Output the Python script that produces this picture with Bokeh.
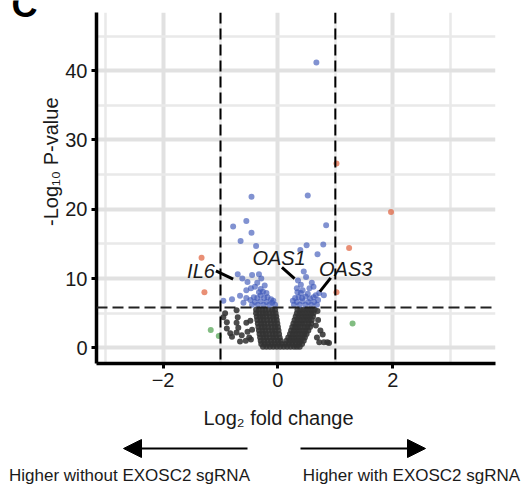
from bokeh.plotting import figure
from bokeh.models import Range1d, FixedTicker, Span, Arrow, NormalHead, Title
from bokeh.layouts import column, row
from bokeh.core.properties import value
from bokeh.embed import file_html
from bokeh.resources import INLINE

FONT = "Liberation Sans"

# ---------------- data ----------------
x_ticks = [-2, 0, 2]
x_minor = [-3, -1, 1, 3]
y_ticks = [0, 10, 20, 30, 40]
y_minor = [5, 15, 25, 35, 45]

fc_cutoff = 1.0
p_cutoff = 5.8

# grey (not significant) - dense V cloud, row by row
grey_row_y = [0.15, 0.55, 1.0, 1.5, 2.0, 2.5, 3.0, 3.5, 4.0, 4.5, 5.0, 5.5]
grey_row_x = [
    [-0.26, -0.20, -0.14, -0.08, -0.02, 0.04, 0.10, 0.16, 0.22, 0.28, 0.33, 0.38],
    [-0.29, -0.23, -0.17, -0.11, -0.05, 0.01, 0.07, 0.13, 0.19, 0.25, 0.31, 0.37, 0.42],
    [-0.30, -0.24, -0.18, -0.12, -0.06, 0.00, 0.05, 0.15, 0.20, 0.25, 0.30, 0.35, 0.40, 0.45],
    [-0.31, -0.25, -0.20, -0.14, -0.08, -0.03, 0.03, 0.18, 0.23, 0.28, 0.33, 0.38, 0.43, 0.47],
    [-0.32, -0.26, -0.21, -0.15, -0.09, -0.04, 0.02, 0.21, 0.26, 0.31, 0.36, 0.41, 0.46, 0.50],
    [-0.33, -0.27, -0.22, -0.16, -0.10, -0.05, 0.01, 0.23, 0.28, 0.33, 0.38, 0.43, 0.48, 0.53],
    [-0.34, -0.28, -0.23, -0.17, -0.11, -0.05, 0.00, 0.25, 0.30, 0.35, 0.40, 0.46, 0.51, 0.56],
    [-0.35, -0.29, -0.24, -0.18, -0.12, -0.06, -0.01, 0.27, 0.32, 0.37, 0.42, 0.47, 0.53, 0.58],
    [-0.36, -0.30, -0.25, -0.19, -0.13, -0.07, -0.02, 0.29, 0.34, 0.39, 0.44, 0.49, 0.54, 0.59],
    [-0.37, -0.31, -0.26, -0.20, -0.14, -0.08, -0.03, 0.31, 0.36, 0.41, 0.46, 0.51, 0.56, 0.61],
    [-0.38, -0.32, -0.26, -0.21, -0.15, -0.09, -0.04, 0.33, 0.38, 0.43, 0.48, 0.53, 0.58, 0.62],
    [-0.38, -0.33, -0.27, -0.22, -0.16, -0.10, -0.05, 0.34, 0.39, 0.44, 0.49, 0.54, 0.59, 0.64],
]
grey_out_x = [-0.92, -0.89, -0.95, -0.89, -0.83, -0.72, -0.80, -0.66,
              -0.72, -0.70, -0.72, -0.69, -0.63, -0.55, -0.53, -0.50, -0.56, -0.47, -0.45, -0.48,
              0.74, 0.78, 0.80, 0.86, 0.72, 0.68, 0.89, 0.70, 0.66, 0.69]
grey_out_y = [5.0, 3.7, 4.4, 2.8, 2.1, 2.2, 1.6, 0.9,
              5.4, 4.4, 3.6, 2.9, 1.8, 3.6, 2.3, 1.5, 1.0, 1.2, 2.6, 3.9,
              2.5, 1.9, 0.8, 0.8, 0.8, 1.5, 0.7, 4.0, 3.2, 5.3]

# blue (p-value significant only)
blue_x = [-0.46, -0.78, -0.55, -0.46, -0.65, -0.38,
          -0.70, -0.62, -0.53, -0.45, -0.33, -0.29, -0.40, -0.23, -0.55, -0.36, -0.47, -0.30,
          -0.66, -0.80, -0.95, -0.60, -0.55,
          -0.45, -0.40, -0.35, -0.30, -0.25, -0.20, -0.15, -0.10, -0.05, -0.42, -0.36, -0.30,
          -0.24, -0.18, -0.12, -0.33, -0.26, -0.20, -0.08, -0.48,
          0.67, 0.52, 0.84, 0.79, 0.50, 0.39, 0.69,
          0.45, 0.35, 0.49, 0.59, 0.40, 0.62, 0.43, 0.33, 0.52, 0.66, 0.80, 0.72, 0.55,
          0.28, 0.33, 0.38, 0.43, 0.48, 0.53, 0.58, 0.63, 0.68, 0.30, 0.36, 0.42, 0.48, 0.56,
          0.62, 0.34, 0.40, 0.70, 0.26]
blue_y = [21.8, 17.5, 18.3, 16.6, 15.4, 14.7,
          10.6, 10.0, 9.5, 10.5, 10.6, 10.0, 8.8, 9.0, 8.3, 9.4, 8.6, 8.5,
          7.5, 7.0, 6.8, 6.5, 7.2,
          6.2, 6.6, 6.2, 6.7, 6.2, 6.6, 6.2, 6.5, 6.2, 7.3, 7.2, 7.6,
          7.2, 7.3, 7.0, 8.0, 8.1, 7.9, 6.8, 6.9,
          41.2, 22.0, 17.7, 14.9, 14.8, 14.1, 13.5,
          11.0, 9.7, 10.2, 9.4, 9.1, 8.8, 8.3, 8.6, 7.8, 7.6, 7.6, 7.9, 8.6,
          6.2, 6.6, 6.2, 6.7, 6.2, 6.6, 6.2, 6.6, 6.2, 7.2, 7.3, 7.2, 7.4, 7.1,
          7.3, 8.0, 7.9, 6.9, 6.8]

# red (p-value and fold change significant)
red_x = [-1.33, -1.28, 1.02, 1.97, 1.24, 1.02]
red_y = [13.0, 8.0, 26.6, 19.6, 14.4, 8.0]

# green (fold change only)
green_x = [-1.17, -1.03, 1.30]
green_y = [2.55, 1.7, 3.5]

# gene labels and connectors
gene_names = ["IL6", "OAS1", "OAS3"]
gene_label_x = [-1.34, 0.02, 1.18]
gene_label_y = [11.1, 12.9, 11.4]
conn_x0 = [-1.08, 0.07, 0.92]
conn_y0 = [11.1, 11.6, 10.1]
conn_x1 = [-0.78, 0.29, 0.73]
conn_y1 = [9.9, 10.0, 8.1]

x_title = "Log\u2082 fold change"
y_title = "-Log\u2081\u2080 P-value"
direction_labels = ["Higher without EXOSC2 sgRNA", "Higher with EXOSC2 sgRNA"]
panel_letter = "C"

# flatten grey rows
grey_x = [x for row_ in grey_row_x for x in row_] + grey_out_x
grey_y = [y for y, row_ in zip(grey_row_y, grey_row_x) for _ in row_] + grey_out_y


def bare(fig):
    fig.outline_line_color = None
    fig.xgrid.visible = False
    fig.ygrid.visible = False
    try:
        fig.frame_align = False
    except Exception:
        pass


# ---------------- panel letter ----------------
pl = figure(width=38, height=30, x_range=Range1d(0, 38), y_range=Range1d(30, 0),
            output_backend="svg", toolbar_location=None, min_border=0,
            x_axis_type=None, y_axis_type=None)
bare(pl)
try:
    pl.align = "start"
except Exception:
    pass
pl.text([11], [4], text=[panel_letter], text_font=value(FONT), text_font_size="36px",
        text_font_style="bold", text_align="left", text_baseline="middle",
        text_color="black")

# ---------------- main plot ----------------
p = figure(width=491, height=396,
           x_range=Range1d(-3.16, 3.79), y_range=Range1d(-2.27, 48.4),
           output_backend="svg", toolbar_location=None,
           min_border_left=54, min_border_right=34, min_border_top=12, min_border_bottom=33)
p.outline_line_color = None
p.background_fill_color = "white"
p.border_fill_color = "white"
try:
    p.frame_align = False
except Exception:
    pass

for ax, ticks, minor in ((p.xaxis, x_ticks, x_minor), (p.yaxis, y_ticks, y_minor)):
    ax.ticker = FixedTicker(ticks=ticks, minor_ticks=minor)
    ax.axis_line_width = 3.5
    ax.axis_line_color = "black"
    ax.major_tick_line_width = 3
    ax.major_tick_line_color = "black"
    ax.major_tick_out = 5
    ax.major_tick_in = 0
    ax.minor_tick_line_color = None
    ax.major_label_text_font = FONT
    ax.major_label_text_font_size = "20px"
    ax.major_label_text_color = "#1a1a1a"
    ax.major_label_standoff = 4

# y axis title as a side title (sits higher, like the reference)
p.add_layout(Title(text=y_title, align="right", offset=85,
                   vertical_align="middle", standoff=0,
                   text_font=FONT, text_font_size="20px", text_font_style="normal",
                   text_color="#1a1a1a"), "left")

for g in (p.xgrid, p.ygrid):
    g.grid_line_color = "#e1e1e1"
    g.grid_line_width = 4
    g.minor_grid_line_color = "#e9e9e9"
    g.minor_grid_line_width = 2.5

p.scatter(grey_x, grey_y, size=6, fill_color="#333333", fill_alpha=0.88, line_color=None)
p.scatter(green_x, green_y, size=6, fill_color="#3f9a3f", fill_alpha=0.65, line_color=None)
p.scatter(blue_x, blue_y, size=6, fill_color="#3d58b8", fill_alpha=0.65, line_color=None)
p.scatter(red_x, red_y, size=6, fill_color="#e0603a", fill_alpha=0.7, line_color=None)

for loc in (-fc_cutoff, fc_cutoff):
    p.add_layout(Span(location=loc, dimension="height", line_color="black",
                      line_width=2, line_dash="11 5"))
p.add_layout(Span(location=p_cutoff, dimension="width", line_color="#222222",
                  line_width=2, line_dash="11 5"))

p.segment(conn_x0, conn_y0, conn_x1, conn_y1, line_color="black", line_width=3)
p.text(gene_label_x, gene_label_y, text=gene_names, text_font=value(FONT),
       text_font_style="italic", text_font_size="20px", text_align="center",
       text_baseline="middle", text_color="#1a1a1a")

# ---------------- x title and direction arrows ----------------
p2 = figure(width=529, height=92, x_range=Range1d(0, 529), y_range=Range1d(92, 0),
            output_backend="svg", toolbar_location=None, min_border=0,
            x_axis_type=None, y_axis_type=None)
bare(p2)

p2.text([278], [21], text=[x_title], text_font=value(FONT), text_font_size="20px",
        text_align="center", text_baseline="middle", text_color="#1a1a1a")
p2.add_layout(Arrow(end=NormalHead(size=18, fill_color="black", line_color="black"),
                    x_start=247, y_start=52, x_end=123, y_end=52,
                    line_width=2, line_color="black"))
p2.add_layout(Arrow(end=NormalHead(size=18, fill_color="black", line_color="black"),
                    x_start=300, y_start=52, x_end=425, y_end=52,
                    line_width=2, line_color="black"))
p2.text([129, 411], [79, 79], text=direction_labels, text_font=value(FONT),
        text_font_size="17px", text_align="center", text_baseline="middle",
        text_color="#1a1a1a")

layout = column(row(pl, p), p2)
open("out.html", "w").write(file_html(layout, INLINE))
